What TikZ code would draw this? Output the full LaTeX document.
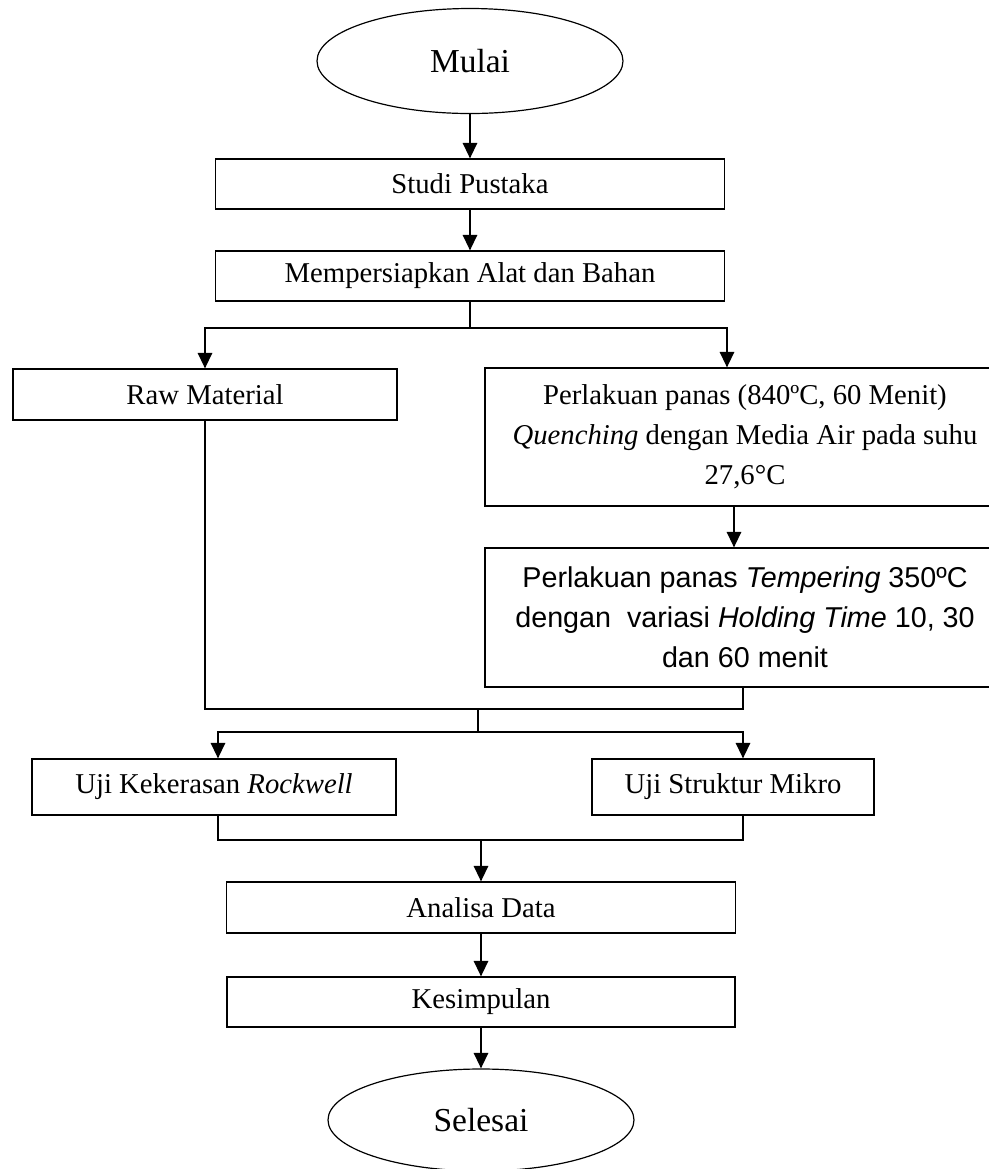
\documentclass[tikz,border=0pt]{standalone}
\usepackage{fontspec}
\setmainfont{Liberation Serif}
\newfontfamily\arialfont{Liberation Sans}
\usetikzlibrary{shapes.geometric,arrows.meta}
\newdimen\pxu
\pxu=0.418pt

\begin{document}
\begin{tikzpicture}[x=0.418pt, y=-0.418pt,
    box/.style ={rectangle, draw, line width=0.5pt, inner sep=0pt, align=center,
                 font=\fontsize{12}{16.7}\selectfont},
    terminal/.style ={ellipse, draw, line width=0.5pt, inner sep=0pt,
                 font=\fontsize{14}{16}\selectfont},
    arrow/.style ={-{Triangle[length=6.5pt,width=6pt]}, line width=0.8pt},
    link/.style ={line width=0.8pt}, thinlink/.style ={line width=0.5pt}]
   \useasboundingbox (0,0) rectangle (989,1169);
   \clip (0,0) rectangle (989,1169);

   \node[terminal, minimum width=306\pxu, minimum height=105\pxu] (mulai) at (470,61) {Mulai};
   \node[box, minimum width=509\pxu, minimum height=50\pxu] (studi) at (470,184) {Studi Pustaka};
   \node[box, minimum width=509\pxu, minimum height=50\pxu] (siap) at (470,276) {Mempersiapkan Alat dan Bahan};
   \node[box, minimum width=384\pxu, minimum height=51\pxu] (raw) at (205,394.5) {Raw Material};
   \node[box, minimum width=520\pxu, minimum height=138\pxu] (quench) at (745,437)
      {Perlakuan panas (840ºC, 60 Menit)\\ \textit{Quenching} dengan Media Air pada suhu\\ 27,6°C};
   \node[box, minimum width=520\pxu, minimum height=139\pxu, font=\arialfont\fontsize{12}{16.7}\selectfont] (temper) at (745,617.5)
      {Perlakuan panas \textit{Tempering} 350ºC\\ dengan\ \ variasi \textit{Holding Time} 10, 30\\ dan 60 menit};
   \node[box, minimum width=364\pxu, minimum height=56\pxu] (rock) at (214,787) {Uji Kekerasan \textit{Rockwell}};
   \node[box, minimum width=282\pxu, minimum height=56\pxu] (mikro) at (733,787) {Uji Struktur Mikro};
   \node[box, minimum width=509\pxu, minimum height=51\pxu] (analisa) at (481,907.5) {Analisa Data};
   \node[box, minimum width=508\pxu, minimum height=50\pxu] (simpul) at (481,1002) {Kesimpulan};
   \node[terminal, minimum width=306\pxu, minimum height=102\pxu] (selesai) at (481,1120) {Selesai};

   \coordinate (split) at (470,328);
   \coordinate (merge) at (478,709);
   \coordinate (split2) at (478,732);
   \coordinate (merge2) at (481,840);

   \draw[arrow] (mulai) -- (studi);
   \draw[arrow] (studi) -- (siap);

   \draw[link] (siap) -- (split);
   \draw[arrow] (split) -| (raw);
   \draw[arrow] (split) -| ([xshift=-18\pxu]quench.north);
   \draw[arrow] ([xshift=-11\pxu]quench.south) -- ([xshift=-11\pxu]temper.north);

   \draw[thinlink] (raw) |- (merge);
   \draw[thinlink] ([xshift=-2\pxu]temper.south) |- (merge);
   \draw[thinlink] (merge) -- (split2);
   \draw[arrow] (split2) -| ([xshift=4\pxu]rock.north);
   \draw[arrow] (split2) -| ([xshift=10\pxu]mikro.north);

   \draw[link] ([xshift=4\pxu]rock.south) |- (merge2) -| ([xshift=10\pxu]mikro.south);
   \draw[arrow] (merge2) -- (analisa);
   \draw[arrow] (analisa) -- (simpul);
   \draw[arrow] (simpul) -- (selesai);

 \end{tikzpicture}
\end{document}
